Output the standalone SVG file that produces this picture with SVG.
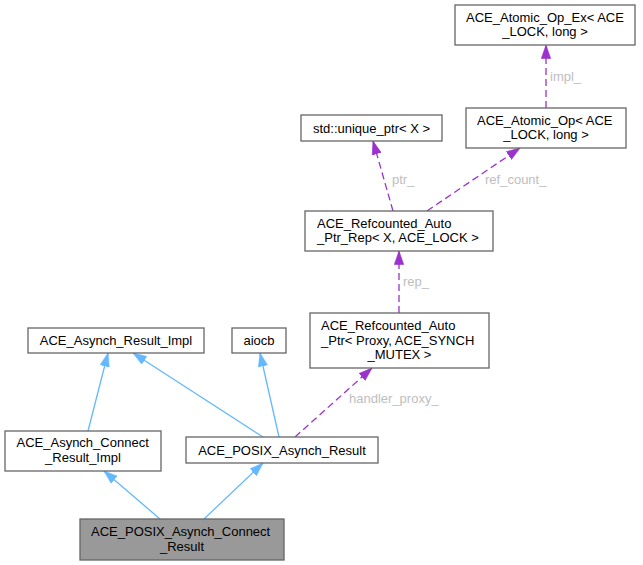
<svg xmlns="http://www.w3.org/2000/svg" width="643" height="565" viewBox="0 0 643 565">
<style>
.box{fill:#ffffff;stroke:#666666;stroke-width:1.3}
.main{fill:#999999;stroke:#666666;stroke-width:1.3}
text{font-family:"Liberation Sans",Arial,Helvetica,sans-serif;font-size:13px;fill:#000000}
.c{text-anchor:middle}
.lbl{fill:#bebebe;font-size:13px}
.inh{stroke:#63b8ff;stroke-width:1.3;fill:none;marker-end:url(#ab)}
.use{stroke:#9a32cd;stroke-width:1.3;fill:none;stroke-dasharray:7,4;marker-end:url(#ap)}
</style>
<defs>
<marker id="ab" markerUnits="userSpaceOnUse" markerWidth="14" markerHeight="10" refX="13.5" refY="5" orient="auto">
<path d="M0,0.3 L13.5,5 L0,9.7 z" fill="#63b8ff" stroke="#63b8ff" stroke-width="0.6"/>
</marker>
<marker id="ap" markerUnits="userSpaceOnUse" markerWidth="14" markerHeight="10" refX="13.5" refY="5" orient="auto">
<path d="M0,0.3 L13.5,5 L0,9.7 z" fill="#9a32cd" stroke="#9a32cd" stroke-width="0.6"/>
</marker>
</defs>
<g id="connectors">
<line class="inh" x1="160" y1="519" x2="104" y2="471"/>
<line class="inh" x1="204" y1="519" x2="263" y2="463"/>
<line class="inh" x1="88" y1="431" x2="108" y2="353"/>
<line class="inh" x1="263" y1="437" x2="133" y2="353"/>
<line class="inh" x1="279" y1="437" x2="260" y2="353"/>
<line class="use" x1="295" y1="437" x2="372" y2="368"/>
<text class="lbl" x="349" y="403">handler_proxy_</text>
<line class="use" x1="399" y1="313" x2="399" y2="251"/>
<text class="lbl" x="403" y="286">rep_</text>
<line class="use" x1="393" y1="211" x2="373" y2="141"/>
<text class="lbl" x="392" y="184">ptr_</text>
<line class="use" x1="427" y1="211" x2="520" y2="148"/>
<text class="lbl" x="485" y="184">ref_count_</text>
<line class="use" x1="546" y1="108" x2="546" y2="45"/>
<text class="lbl" x="550" y="81">impl_</text>
</g>
<g id="node_atomic_op_ex">
<rect class="box" x="455" y="5" width="180" height="40"/>
<text x="466" y="21.6">ACE_Atomic_Op_Ex&lt; ACE</text>
<text class="c" x="545" y="36.3">_LOCK, long &gt;</text>
</g>
<g id="node_atomic_op">
<rect class="box" x="466" y="108" width="160" height="40"/>
<text x="477" y="124.6">ACE_Atomic_Op&lt; ACE</text>
<text class="c" x="546" y="139.3">_LOCK, long &gt;</text>
</g>
<g id="node_unique_ptr">
<rect class="box" x="301" y="115" width="141" height="26"/>
<text class="c" x="371.5" y="132.5">std::unique_ptr&lt; X &gt;</text>
</g>
<g id="node_refcounted_rep">
<rect class="box" x="305" y="211" width="188" height="40"/>
<text x="317" y="227.6">ACE_Refcounted_Auto</text>
<text x="317" y="242.3">_Ptr_Rep&lt; X, ACE_LOCK &gt;</text>
</g>
<g id="node_refcounted_ptr">
<rect class="box" x="310" y="313" width="179" height="55"/>
<text x="321" y="329.8">ACE_Refcounted_Auto</text>
<text x="321" y="344.5">_Ptr&lt; Proxy, ACE_SYNCH</text>
<text class="c" x="399.5" y="359.2">_MUTEX &gt;</text>
</g>
<g id="node_asynch_result_impl">
<rect class="box" x="28" y="328" width="176" height="25"/>
<text class="c" x="116" y="345">ACE_Asynch_Result_Impl</text>
</g>
<g id="node_aiocb">
<rect class="box" x="232" y="328" width="54" height="25"/>
<text class="c" x="259" y="345">aiocb</text>
</g>
<g id="node_connect_result_impl">
<rect class="box" x="5" y="431" width="156" height="40"/>
<text x="16.5" y="447.3">ACE_Asynch_Connect</text>
<text class="c" x="83" y="462">_Result_Impl</text>
</g>
<g id="node_posix_asynch_result">
<rect class="box" x="186" y="437" width="192" height="26"/>
<text class="c" x="282" y="454.5">ACE_POSIX_Asynch_Result</text>
</g>
<g id="node_posix_connect_result">
<rect class="main" x="80" y="519" width="204" height="41"/>
<text x="91" y="535.8">ACE_POSIX_Asynch_Connect</text>
<text class="c" x="182" y="550.5">_Result</text>
</g>
</svg>
